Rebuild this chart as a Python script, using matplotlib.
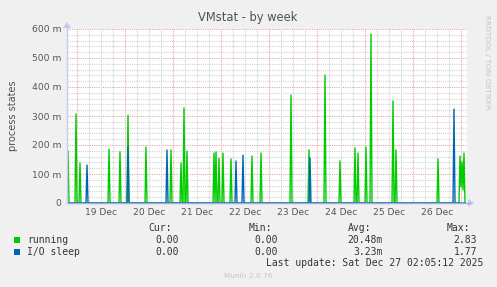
import numpy as np
import matplotlib.pyplot as plt

W, H = 497, 287
DPI = 100

# spike samples: hours since 19 Dec 00:00, value in milli-processes
running_t = [-4.5, -0.5, 1.5, 16, 21.5, 25.5, 34.5, 47, 52, 53.5, 55,
             68.5, 69.5, 71, 73, 77, 87.5, 92, 107, 116, 124, 131.5,
             139, 140.5, 144.5, 147, 158, 159.5, 180.5,
             191.5, 192, 192.5, 193, 193.5]
running_v = [180, 307, 138, 186, 177, 303, 193, 183, 138, 328, 179,
             172, 176, 154, 172, 152, 162, 172, 372, 183, 441, 145,
             190, 172, 193, 583, 352, 183, 152,
             162, 55, 142, 45, 172]

iosleep_t = [5, 25.5, 45, 79.5, 83, 116.5, 188.5]
iosleep_v = [131, 194, 183, 145, 165, 156, 324]

day_labels = ["19 Dec", "20 Dec", "21 Dec", "22 Dec",
              "23 Dec", "24 Dec", "25 Dec", "26 Dec"]
y_ticks = [0, 100, 200, 300, 400, 500, 600]
y_tick_labels = ["0", "100 m", "200 m", "300 m", "400 m", "500 m", "600 m"]

legend_names = ["running", "I/O sleep"]
legend_colors = ["#00CC00", "#0066B3"]
legend_cur = ["0.00", "0.00"]
legend_min = ["0.00", "0.00"]
legend_avg = ["20.48m", "3.23m"]
legend_max = ["2.83", "1.77"]

T_START, T_END = -5.0, 195.0


def spike_series(times, values, start=T_START, end=194.0, step=0.5):
    t = np.arange(start, end + step, step)
    v = np.zeros_like(t)
    for ti, vi in zip(times, values):
        v[np.argmin(np.abs(t - ti))] = vi
    return t, v


fig = plt.figure(figsize=(W / DPI, H / DPI), dpi=DPI, facecolor="#F0F0F0")
ax = fig.add_axes([67 / W, (H - 203) / H, 400 / W, 174 / H])
ax.set_facecolor("white")
ax.set_xlim(T_START, T_END)
ax.set_ylim(0, 600)
for s in ax.spines.values():
    s.set_visible(False)

# grid
minor_c, major_c = "#D2D2D2", "#E3A9A9"
dots = (0, (1, 1))
for y in range(20, 601, 20):
    c = major_c if y % 100 == 0 else minor_c
    ax.axhline(y, color=c, lw=0.8, ls=dots, zorder=1)
for x in range(-0, 195, 6):
    c = major_c if x % 24 == 0 else minor_c
    ax.axvline(x, color=c, lw=0.8, ls=dots, zorder=1)

t, v = spike_series(running_t, running_v)
ax.plot(t, v, color=legend_colors[0], lw=1.0, zorder=3)
t, v = spike_series(iosleep_t, iosleep_v)
ax.plot(t, v, color=legend_colors[1], lw=1.0, zorder=4)

ax.set_yticks(y_ticks)
ax.set_yticklabels(y_tick_labels)
ax.set_xticks([12 + 24 * i for i in range(len(day_labels))])
ax.set_xticklabels(day_labels)
ax.tick_params(length=0, labelsize=6.6, colors="#555555", pad=3.5)
ax.tick_params(axis="y", pad=4)

# axis lines with arrows
axis_c = "#A8A8E8"
fig.add_artist(plt.Line2D([67 / W, 470 / W], [(H - 203) / H] * 2, color=axis_c, lw=1.0))
fig.add_artist(plt.Line2D([67 / W] * 2, [(H - 203) / H, (H - 25) / H], color="#C8C8F0", lw=1.0))
fig.patches.append(plt.Polygon([[468 / W, (H - 199) / H], [474 / W, (H - 203) / H],
                                [468 / W, (H - 207) / H]], closed=True, transform=fig.transFigure,
                               facecolor="#C8C8F0", edgecolor="none"))
fig.patches.append(plt.Polygon([[63 / W, (H - 28) / H], [67 / W, (H - 22) / H],
                                [71 / W, (H - 28) / H]], closed=True, transform=fig.transFigure,
                               facecolor="#C8C8F0", edgecolor="none"))

fig.text(248 / W, 1 - 18 / H, "VMstat - by week", ha="center", va="center",
         fontsize=8.3, color="#505050")
fig.text(13 / W, 1 - 116 / H, "process states", ha="center", va="center",
         rotation=90, fontsize=7, color="#505050")
fig.text(487 / W, 1 - 15 / H, "RRDTOOL / TOBI OETIKER", ha="center", va="top",
         rotation=270, fontsize=5.3, color="#C4C4C4")

# legend
mono = dict(family="DejaVu Sans Mono", fontsize=7, color="#333333")
hy = 1 - 228 / H
for txt, xr in [("Cur:", 172), ("Min:", 272), ("Avg:", 371), ("Max:", 470)]:
    fig.text(xr / W, hy, txt, ha="right", va="center", **mono)
for i, name in enumerate(legend_names):
    ry = 1 - (240 + 12 * i) / H
    fig.patches.append(plt.Rectangle((14 / W, ry - 3 / H), 6 / W, 6 / H,
                                     transform=fig.transFigure,
                                     facecolor=legend_colors[i], edgecolor="none"))
    fig.text(27 / W, ry, name, ha="left", va="center", **mono)
    fig.text(179 / W, ry, legend_cur[i], ha="right", va="center", **mono)
    fig.text(278 / W, ry, legend_min[i], ha="right", va="center", **mono)
    fig.text(383 / W, ry, legend_avg[i], ha="right", va="center", **mono)
    fig.text(477 / W, ry, legend_max[i], ha="right", va="center", **mono)
fig.text(483 / W, 1 - 263 / H, "Last update: Sat Dec 27 02:05:12 2025",
         ha="right", va="center", **mono)
fig.text(248 / W, 1 - 276 / H, "Munin 2.0.76", ha="center", va="center",
         fontsize=5.3, color="#C4C4C4")

fig.savefig("out.png", dpi=DPI, facecolor=fig.get_facecolor())
